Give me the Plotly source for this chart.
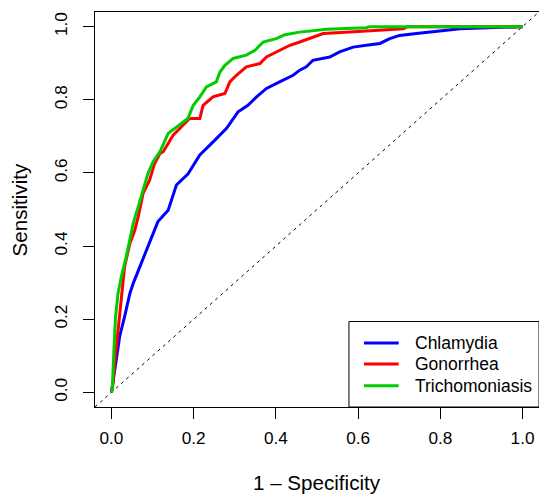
import plotly.graph_objects as go

# ---- data ----
series_names = ["Chlamydia", "Gonorrhea", "Trichomoniasis"]
series_colors = ["#0000FF", "#FF0000", "#00CC00"]

chlamydia_fpr = [0.0, 0.008, 0.020, 0.032, 0.045, 0.053, 0.069, 0.093, 0.113, 0.138, 0.158, 0.186,
                 0.215, 0.251, 0.280, 0.308, 0.332, 0.353, 0.377, 0.409, 0.442, 0.458, 0.474, 0.490,
                 0.531, 0.555, 0.588, 0.620, 0.653, 0.677, 0.701, 0.742, 0.782, 0.815, 0.847, 0.896,
                 0.945, 1.0]
chlamydia_tpr = [0.0, 0.062, 0.153, 0.207, 0.271, 0.298, 0.344, 0.408, 0.467, 0.498, 0.567, 0.597,
                 0.649, 0.689, 0.722, 0.767, 0.785, 0.808, 0.831, 0.849, 0.867, 0.881, 0.890, 0.908,
                 0.917, 0.931, 0.944, 0.949, 0.954, 0.967, 0.976, 0.981, 0.985, 0.990, 0.994, 0.996,
                 0.998, 1.0]

gonorrhea_fpr = [0.0, 0.004, 0.008, 0.016, 0.024, 0.032, 0.045, 0.057, 0.065, 0.077, 0.093, 0.105,
                 0.118, 0.126, 0.150, 0.174, 0.190, 0.215, 0.223, 0.247, 0.276, 0.288, 0.304, 0.328,
                 0.361, 0.377, 0.409, 0.434, 0.458, 0.491, 0.515, 0.580, 0.653, 0.710, 0.72, 1.0]
gonorrhea_tpr = [0.0, 0.025, 0.080, 0.171, 0.253, 0.344, 0.408, 0.444, 0.480, 0.544, 0.581, 0.626,
                 0.653, 0.658, 0.703, 0.731, 0.749, 0.749, 0.785, 0.808, 0.817, 0.849, 0.867, 0.890,
                 0.899, 0.917, 0.935, 0.949, 0.958, 0.972, 0.981, 0.985, 0.990, 0.994, 1.0, 1.0]

trich_fpr = [0.0, 0.002, 0.006, 0.010, 0.016, 0.024, 0.036, 0.045, 0.053, 0.065, 0.077, 0.089,
             0.101, 0.118, 0.138, 0.166, 0.186, 0.199, 0.215, 0.231, 0.255, 0.264, 0.276, 0.296,
             0.328, 0.349, 0.369, 0.401, 0.422, 0.458, 0.491, 0.523, 0.620, 0.628, 1.0]
trich_tpr = [0.0, 0.007, 0.116, 0.207, 0.271, 0.316, 0.371, 0.417, 0.462, 0.507, 0.553, 0.599,
             0.630, 0.658, 0.708, 0.731, 0.749, 0.785, 0.808, 0.835, 0.849, 0.876, 0.894, 0.913,
             0.922, 0.935, 0.958, 0.967, 0.978, 0.985, 0.990, 0.993, 0.997, 1.0, 1.0]

tick_vals = [0.0, 0.2, 0.4, 0.6, 0.8, 1.0]
tick_text = ["0.0", "0.2", "0.4", "0.6", "0.8", "1.0"]
x_title = "1 \u2013 Specificity"
y_title = "Sensitivity"

# ---- figure ----
FONT = "Liberation Sans, Arial, Helvetica, sans-serif"
AX_RANGE = [-0.04, 1.04]
TICK_SIZE = 17.2
LEG_SIZE = 17.5
TITLE_SIZE = 20.6

xs = [chlamydia_fpr, gonorrhea_fpr, trich_fpr]
ys = [chlamydia_tpr, gonorrhea_tpr, trich_tpr]

fig = go.Figure()
for name, color, x, y in zip(series_names, series_colors, xs, ys):
    fig.add_trace(go.Scatter(x=x, y=y, mode="lines", name=name,
                             line=dict(color=color, width=3), showlegend=False))

# chance diagonal
fig.add_shape(type="line", xref="x", yref="y", x0=AX_RANGE[0], y0=AX_RANGE[0],
              x1=AX_RANGE[1], y1=AX_RANGE[1], layer="below",
              line=dict(color="black", width=1, dash="3px,4px"))

axis_common = dict(range=AX_RANGE, tickvals=tick_vals, ticktext=tick_text,
                   showgrid=False, zeroline=False, showline=True, mirror=True,
                   linecolor="black", linewidth=1, ticks="outside", ticklen=11,
                   tickcolor="black", tickwidth=1,
                   tickfont=dict(family=FONT, size=TICK_SIZE, color="black"))

fig.update_layout(
    width=539, height=495,
    margin=dict(l=95, r=0, t=12, b=88),
    paper_bgcolor="white", plot_bgcolor="white",
    xaxis=dict(**axis_common, ticklabelstandoff=4),
    yaxis=dict(**axis_common, tickangle=-90, ticklabelstandoff=9),
    showlegend=False,
)

# axis titles
fig.add_annotation(text=x_title, xref="paper", yref="paper", x=0.5, y=-0.1914,
                   xanchor="center", yanchor="middle", showarrow=False,
                   font=dict(family=FONT, size=TITLE_SIZE, color="black"))
fig.add_annotation(text=y_title, xref="paper", yref="paper", x=-0.1690, y=0.5,
                   xanchor="center", yanchor="middle", showarrow=False, textangle=-90,
                   font=dict(family=FONT, size=TITLE_SIZE, color="black"))

# legend box (bottom right)
fig.add_shape(type="rect", xref="paper", yref="paper", x0=0.572, x1=1.0, y0=0.0, y1=0.2164,
              line=dict(color="black", width=1), fillcolor="white", layer="above")
leg_y = [0.1618, 0.1087, 0.0538]
for name, color, ly in zip(series_names, series_colors, leg_y):
    fig.add_shape(type="line", xref="paper", yref="paper", x0=0.6059, x1=0.684, y0=ly, y1=ly,
                  line=dict(color=color, width=3), layer="above")
    fig.add_annotation(text=name, xref="paper", yref="paper", x=0.7162, y=ly,
                       xanchor="left", yanchor="middle", showarrow=False,
                       font=dict(family=FONT, size=LEG_SIZE, color="black"))

fig.write_html("out.html", config={"displayModeBar": False},
               post_script="document.body.style.margin='0';")
